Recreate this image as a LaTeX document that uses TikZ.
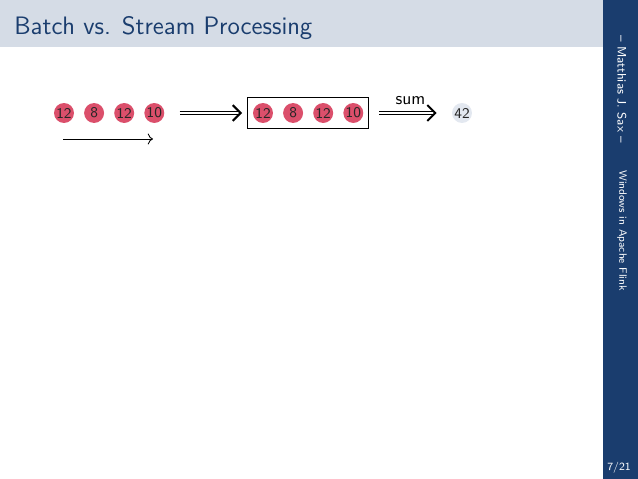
\documentclass[tikz,border=0pt]{standalone}
\usepackage{tikz}
\usetikzlibrary{arrows.meta,positioning,fit}

\definecolor{hdrbg}{HTML}{D5DCE6}
\definecolor{sidebg}{HTML}{1A3D6E}
\definecolor{evtred}{HTML}{DB4F6B}
\definecolor{resbg}{HTML}{E3E8F0}

\begin{document}
\begin{tikzpicture}[
  x=0.02006cm, y=-0.02006cm,
  evt/.style={circle, fill=evtred, text=black!85, font=\fontsize{8.5}{9}\sffamily,
              minimum size=0.4cm, inner sep=0pt},
  res/.style={circle, fill=resbg, text=black!85, font=\fontsize{8.5}{9}\sffamily,
              minimum size=0.4cm, inner sep=0pt},
  batch/.style={draw=black, line width=0.6pt, rectangle, inner sep=0.1cm},
  dbl/.style={double, double distance=1.6pt, line width=0.5pt,
              -{Straight Barb[length=4.5pt,width=9pt,line width=1.2pt]}},
  arr/.style={-{To[length=3pt]}, line width=0.5pt},
  node distance=0.19cm
]
\useasboundingbox (0,0) rectangle (638,479);

% slide frame
\fill[hdrbg] (0,0) rectangle (603,47);
\fill[sidebg] (603,0) rectangle (638,479);
\node[anchor=base west, text=sidebg, font=\Large\sffamily, inner sep=0pt] (title) at (14,35) {Batch vs. Stream Processing};
\node[rotate=-90, anchor=west, text=white, font=\fontsize{7}{8}\sffamily, inner sep=0pt] (auth) at (622,35) {-- Matthias J. Sax --};
\node[rotate=-90, anchor=west, text=white, font=\fontsize{6.1}{7}\sffamily, inner sep=0pt] (talk) at (622,170) {Windows in Apache Flink};
\node[text=white, font=\fontsize{6.3}{7}\sffamily, inner sep=0pt] (page) at (619,468) {7/21};

% stream of events
\node[evt] (a1) at (64,113) {12};
\node[evt, right=of a1] (a2) {8};
\node[evt, right=of a2] (a3) {12};
\node[evt, right=of a3] (a4) {10};

\coordinate (t0) at (63,139);
\coordinate (t1) at (153,139);
\draw[arr] (t0) -- (t1);

% batch
\node[evt] (b1) at (263,113) {12};
\node[evt, right=of b1] (b2) {8};
\node[evt, right=of b2] (b3) {12};
\node[evt, right=of b3] (b4) {10};
\node[batch, fit=(b1)(b4)] (box) {};

\node[res] (sum) at (462,113) {42};

\draw[dbl, shorten <=0.3cm, shorten >=0.1cm] (a4) -- (box);
\draw[dbl, shorten <=0.2cm, shorten >=0.3cm] (box) -- node[above=1pt, font=\fontsize{10}{11}\sffamily] {sum} (sum);
\end{tikzpicture}
\end{document}
